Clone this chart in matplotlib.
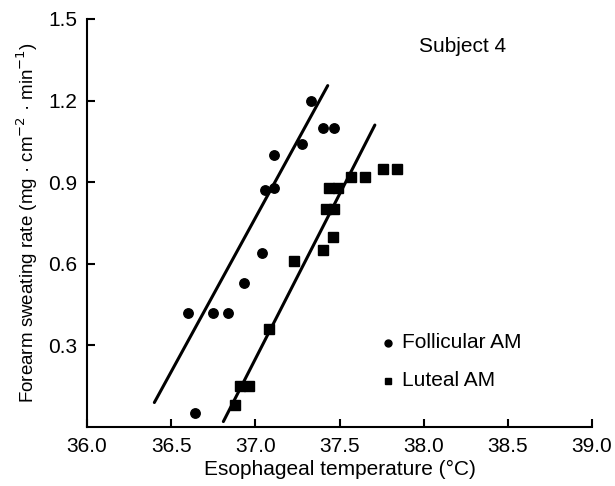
import numpy as np
import matplotlib
matplotlib.use("Agg")
import matplotlib.pyplot as plt

plt.rcParams['font.family'] = ['Liberation Sans', 'DejaVu Sans']

# Follicular AM (circles)
follX = [37.33, 37.40, 37.47, 37.28, 37.11, 37.06, 37.11, 37.04, 36.93, 36.60, 36.75, 36.84, 36.64]
follY = [1.20, 1.10, 1.10, 1.04, 1.00, 0.87, 0.88, 0.64, 0.53, 0.42, 0.42, 0.42, 0.05]
# Luteal AM (squares)
lutX = [37.76, 37.84, 37.57, 37.65, 37.44, 37.49, 37.42, 37.47, 37.46, 37.40, 37.23, 37.08, 36.91, 36.96, 36.88]
lutY = [0.95, 0.95, 0.92, 0.92, 0.88, 0.88, 0.80, 0.80, 0.70, 0.65, 0.61, 0.36, 0.15, 0.15, 0.08]
# regression line end points
follLineX = [36.40, 37.43]
follLineY = [0.09, 1.255]
lutLineX = [36.81, 37.71]
lutLineY = [0.02, 1.11]

xTicks = [36.0, 36.5, 37.0, 37.5, 38.0, 38.5, 39.0]
yTicks = [0.3, 0.6, 0.9, 1.2, 1.5]

fig = plt.figure(figsize=(6.15, 4.86), dpi=100)
ax = fig.add_axes([0.1415, 0.1214, 0.8211, 0.8396])

ax.plot(follLineX, follLineY, color="black", lw=2.2, solid_capstyle="round")
ax.plot(lutLineX, lutLineY, color="black", lw=2.2, solid_capstyle="round")
ax.plot(follX, follY, "o", color="black", ms=6.8, ls="none")
ax.plot(lutX, lutY, "s", color="black", ms=6.8, ls="none")

ax.set_xlim(36.0, 39.0)
ax.set_ylim(0.0, 1.5)
ax.set_xticks(xTicks)
ax.set_xticklabels([f"{t:.1f}" for t in xTicks])
ax.set_yticks(yTicks)
ax.set_yticklabels([f"{t:.1f}" for t in yTicks])
ax.tick_params(direction="in", length=6, width=1.5, labelsize=15, pad=7)
ax.spines["top"].set_visible(False)
ax.spines["right"].set_visible(False)
ax.spines["left"].set_linewidth(1.5)
ax.spines["bottom"].set_linewidth(1.5)
ax.spines["left"].set_clip_on(False)

ax.set_xlabel("Esophageal temperature (°C)", fontsize=15, labelpad=3)
ax.set_ylabel("Forearm sweating rate (mg · cm$^{-2}$ · min$^{-1}$)", fontsize=13.5, labelpad=6)

ax.text(38.23, 1.40, "Subject 4", fontsize=15, ha="center", va="center")
ax.plot([37.79], [0.31], "o", color="black", ms=5)
ax.text(37.87, 0.31, "Follicular AM", fontsize=15, va="center")
ax.plot([37.79], [0.17], "s", color="black", ms=5)
ax.text(37.87, 0.17, "Luteal AM", fontsize=15, va="center")

fig.savefig("out.png", dpi=100)
